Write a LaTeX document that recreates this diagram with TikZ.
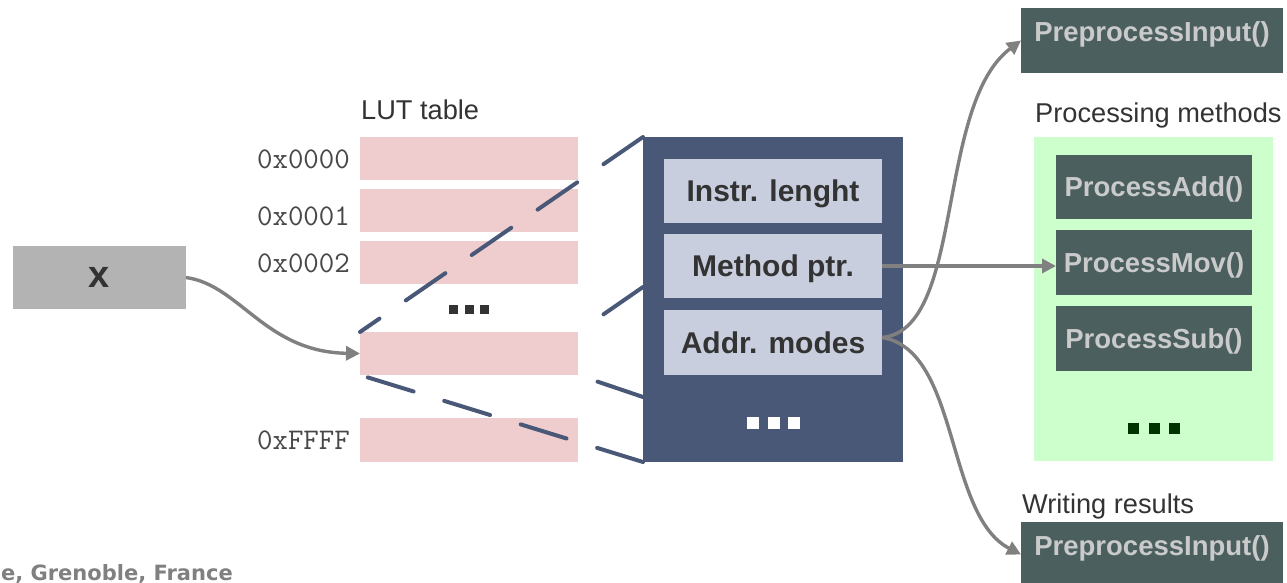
\documentclass[tikz,border=0pt]{standalone}
\usepackage{fontspec}
\setmainfont{Liberation Sans}
\newfontfamily\footfont{DejaVu Sans}
\usetikzlibrary{arrows.meta}
\definecolor{xgray}{HTML}{B3B3B3}
\definecolor{lutpink}{HTML}{EFCDCF}
\definecolor{navy}{HTML}{4A5878}
\definecolor{lightnavy}{HTML}{C9CEDF}
\definecolor{txtdark}{HTML}{333333}
\definecolor{greenbg}{HTML}{CCFFCC}
\definecolor{slate}{HTML}{4B5F5F}
\definecolor{fnlight}{HTML}{CACACA}
\definecolor{dkgreen}{HTML}{003300}
\definecolor{arrgray}{HTML}{808080}
\definecolor{footgray}{HTML}{808080}
\tikzset{
  blk/.style={rectangle, inner sep=0pt, outer sep=0pt, anchor=north west},
  navtxt/.style={font=\fontsize{30}{30}\selectfont\bfseries, text=txtdark, text height=21.5pt, text depth=0pt},
  fntxt/.style={font=\fontsize{27.5}{27.5}\selectfont\bfseries, text=fnlight, text height=19.7pt, text depth=0pt},
  pretxt/.style={font=\fontsize{27.5}{27.5}\selectfont\bfseries, text=fnlight, text height=19.7pt, text depth=17.7pt},
  lutrow/.style={blk, fill=lutpink, minimum width=218pt},
  addr/.style={anchor=east, inner sep=0pt, text=txtdark!90, font=\ttfamily\fontsize{30}{30}\selectfont},
  caption/.style={anchor=base west, inner sep=0pt, text=txtdark, font=\fontsize{27.2}{27.2}\selectfont},
  zoomln/.style={draw=navy, line width=4pt, line cap=round, dash pattern=on 48pt off 32pt},
  arr/.style={draw=arrgray, line width=3.4pt, -{Triangle[length=14pt,width=14pt]}}
}
\begin{document}
\begin{tikzpicture}[x=1pt,y=-1pt]
\useasboundingbox (0,0) rectangle (1287,583);
\fill[white] (0,0) rectangle (1287,583);

% input
\node[blk, fill=xgray, minimum width=173pt, minimum height=63pt,
      font=\fontsize{38}{38}\selectfont\bfseries, text=txtdark,
      text height=19.7pt, text depth=0pt] (xin) at (13,246) {x};

% LUT table
\node[caption] (lut) at (361,120) {LUT table};
\node[lutrow, minimum height=43pt] (r0) at (360,137) {};
\node[lutrow, minimum height=43pt] (r1) at (360,189) {};
\node[lutrow, minimum height=43pt] (r2) at (360,241) {};
\node[lutrow, minimum height=43pt] (rx) at (360,332) {};
\node[lutrow, minimum height=44pt] (rF) at (360,418) {};
\node[addr] (a0) at (350,159) {0x0000};
\node[addr] (a1) at (350,216) {0x0001};
\node[addr] (a2) at (350,263) {0x0002};
\node[addr] (aF) at (350,440) {0xFFFF};
\fill[txtdark] (449,305) rectangle ++(9,9);
\fill[txtdark] (465,305) rectangle ++(9,9);
\fill[txtdark] (480,305) rectangle ++(9,9);

% instruction record
\node[blk, fill=navy, minimum width=260pt, minimum height=325pt] (nav) at (643,137) {};
\node[blk, fill=lightnavy, minimum width=218pt, minimum height=64pt, navtxt] (ins) at (664,159) {Instr. lenght};
\node[blk, fill=lightnavy, minimum width=218pt, minimum height=64pt, navtxt] (mth) at (664,234) {Method ptr.};
\node[blk, fill=lightnavy, minimum width=218pt, minimum height=65pt, navtxt] (adr) at (664,310) {Addr. modes};
\fill[white] (747,417) rectangle ++(12,12);
\fill[white] (767.5,417) rectangle ++(12,12);
\fill[white] (787.5,417) rectangle ++(12,12);

% zoom lines
\coordinate (n2) at (643,287);
\coordinate (n3) at (643,397);
\draw[zoomln] (nav.north west) -- (rx.north west);
\draw[zoomln] (n2) -- (rx.north east);
\draw[zoomln] (n3) -- (rx.south east);
\draw[zoomln] (nav.south west) -- (rx.south west);

% processing methods
\node[caption] (pmeth) at (1035,123) {Processing methods};
\node[blk, fill=greenbg, minimum width=239pt, minimum height=324pt] (grn) at (1034,137) {};
\node[blk, fill=slate, minimum width=196pt, minimum height=64pt, fntxt] (pa) at (1056,155) {ProcessAdd()};
\node[blk, fill=slate, minimum width=196pt, minimum height=65pt, fntxt] (pm) at (1056,230) {ProcessMov()};
\node[blk, fill=slate, minimum width=196pt, minimum height=65pt, fntxt] (ps) at (1056,306) {ProcessSub()};
\fill[dkgreen] (1128,423) rectangle ++(11,11);
\fill[dkgreen] (1148.5,423) rectangle ++(11,11);
\fill[dkgreen] (1169,423) rectangle ++(11,11);

% preprocess / writing
\node[blk, fill=slate, minimum width=262pt, minimum height=65pt, pretxt] (pt) at (1021,8) {PreprocessInput()};
\node[caption] (wres) at (1022,513) {Writing results};
\node[blk, fill=slate, minimum width=262pt, minimum height=65pt, pretxt] (pb) at (1021,522) {PreprocessInput()};

% footer
\node[anchor=base east, inner sep=0pt, text=footgray,
      font=\footfont\bfseries\fontsize{21}{21}\selectfont] (foot) at (233,580) {e, Grenoble, France};

% connectors
\draw[arr] (xin.east) .. controls (240,285) and (265,352) .. (rx.west);
\draw[arr] (mth.east) -- (mth.east -| pm.west);
\draw[arr] ([yshift=5pt]adr.east) .. controls (965,330) and (935,105) .. (pt.west);
\draw[arr] ([yshift=5pt]adr.east) .. controls (960,350) and (945,515) .. (pb.west);
\end{tikzpicture}
\end{document}
